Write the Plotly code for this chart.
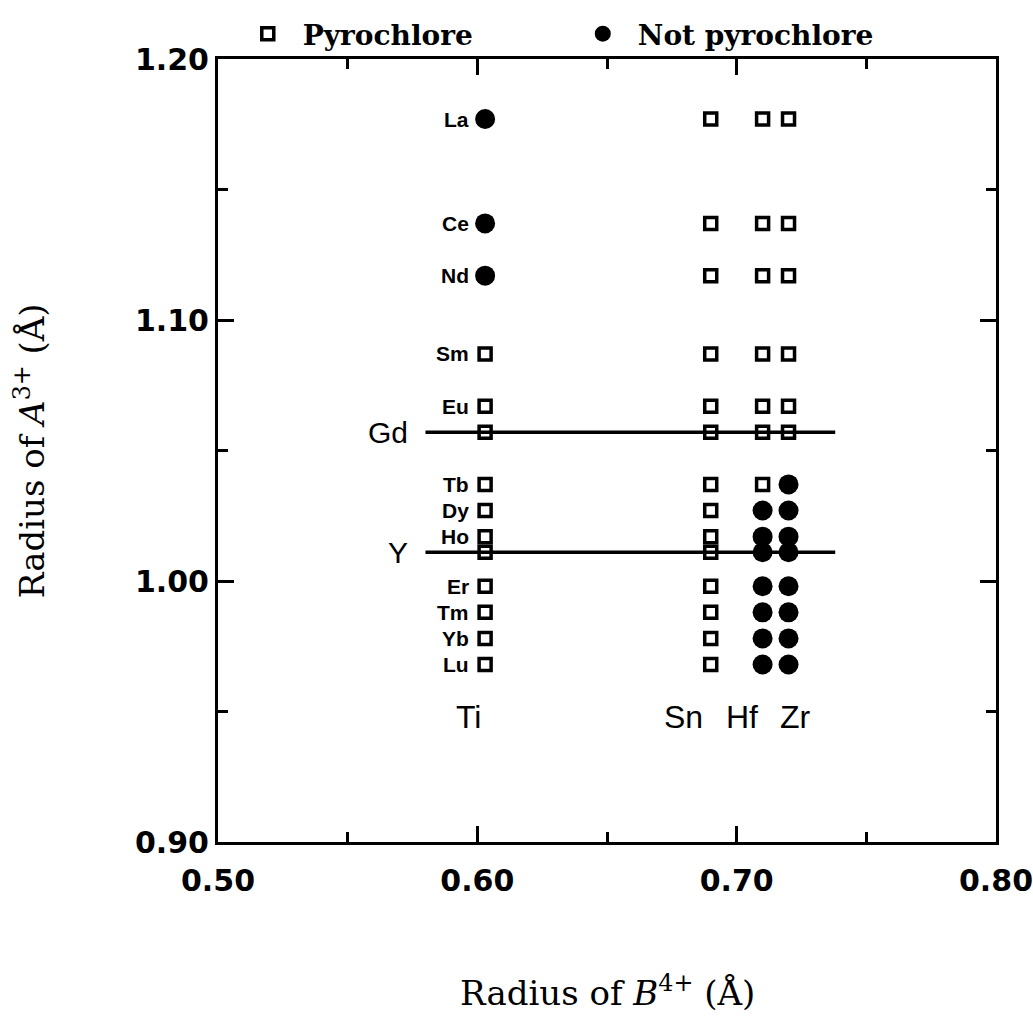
import plotly.graph_objects as go

# ---------------- data ----------------
elements = ["La", "Ce", "Nd", "Sm", "Eu", "Gd", "Tb", "Dy", "Ho", "Y", "Er", "Tm", "Yb", "Lu"]
radius_A = [1.177, 1.137, 1.117, 1.087, 1.067, 1.057, 1.037, 1.027, 1.017, 1.011, 0.998, 0.988, 0.978, 0.968]

b_cations = ["Ti", "Sn", "Hf", "Zr"]
radius_B = [0.603, 0.690, 0.710, 0.720]

# 1 = pyrochlore, 0 = not pyrochlore (rows follow `elements`)
pyro_Ti = [0, 0, 0, 1, 1, 1, 1, 1, 1, 1, 1, 1, 1, 1]
pyro_Sn = [1, 1, 1, 1, 1, 1, 1, 1, 1, 1, 1, 1, 1, 1]
pyro_Hf = [1, 1, 1, 1, 1, 1, 1, 0, 0, 0, 0, 0, 0, 0]
pyro_Zr = [1, 1, 1, 1, 1, 1, 0, 0, 0, 0, 0, 0, 0, 0]
pyro_flags = [pyro_Ti, pyro_Sn, pyro_Hf, pyro_Zr]

# elements drawn as horizontal boundary lines
line_elements = ["Gd", "Y"]
line_x_range = [0.580, 0.738]

# B-cation label positions (under the columns)
b_label_x = [0.5965, 0.6795, 0.702, 0.7225]
b_label_y = 0.948

x_ticks = [0.50, 0.60, 0.70, 0.80]
x_ticktext = ["0.50", "0.60", "0.70", "0.80"]
y_ticks = [0.90, 1.00, 1.10, 1.20]
y_ticktext = ["0.90", "1.00", "1.10", "1.20"]

# ---------------- build points ----------------
px_x, px_y, np_x, np_y = [], [], [], []
for bx, flags in zip(radius_B, pyro_flags):
    for ry, f in zip(radius_A, flags):
        if f:
            px_x.append(bx); px_y.append(ry)
        else:
            np_x.append(bx); np_y.append(ry)

fig = go.Figure()

# boundary lines (Gd, Y)
for el in line_elements:
    r = radius_A[elements.index(el)]
    fig.add_trace(go.Scatter(x=line_x_range, y=[r, r], mode="lines",
                             line=dict(color="black", width=3.5),
                             showlegend=False, hoverinfo="skip"))

fig.add_trace(go.Scatter(
    x=px_x, y=px_y, mode="markers", name="Pyrochlore",
    marker=dict(symbol="square-open", size=12, color="black",
                line=dict(color="black", width=3.5))))
fig.add_trace(go.Scatter(
    x=np_x, y=np_y, mode="markers", name="Not pyrochlore",
    marker=dict(symbol="circle", size=20, color="black")))

annotations = []
# small element labels left of Ti column
ti_x = radius_B[0]
for el, r in zip(elements, radius_A):
    if el in line_elements:
        continue
    annotations.append(dict(x=ti_x - 0.0055, y=r, xref="x", yref="y", text=el,
                            showarrow=False, xanchor="right", yanchor="middle",
                            font=dict(family="Liberation Sans", size=21, color="black", weight="bold")))
# big labels for boundary lines
for el in line_elements:
    r = radius_A[elements.index(el)]
    annotations.append(dict(x=line_x_range[0] - 0.006, y=r, xref="x", yref="y", text=el,
                            showarrow=False, xanchor="right", yanchor="middle",
                            font=dict(family="Liberation Sans", size=30, color="black")))
# B cation labels
for b, bx in zip(b_cations, b_label_x):
    annotations.append(dict(x=bx, y=b_label_y, xref="x", yref="y", text=b,
                            showarrow=False, xanchor="center", yanchor="middle",
                            font=dict(family="Liberation Sans", size=32, color="black")))
# axis titles
annotations.append(dict(x=0.5, y=-0.19, xref="paper", yref="paper",
                        text="Radius of <i>B</i><sup>4+</sup> (Å)", showarrow=False,
                        xanchor="center", yanchor="middle",
                        font=dict(family="DejaVu Serif", size=34, color="black")))
annotations.append(dict(x=-0.242, y=0.5, xref="paper", yref="paper",
                        text="Radius of <i>A</i><sup>3+</sup> (Å)", showarrow=False,
                        textangle=-90, xanchor="center", yanchor="middle",
                        font=dict(family="DejaVu Serif", size=34, color="black")))

axis_common = dict(showgrid=False, zeroline=False, showline=True, linecolor="black",
                   linewidth=3, mirror="ticks", ticks="inside", ticklen=16, tickwidth=3,
                   tickcolor="black", ticklabeloverflow="allow", automargin=False,
                   tickfont=dict(family="DejaVu Sans", size=30, color="black", weight="bold"),
                   minor=dict(ticks="inside", ticklen=10, tickwidth=3, tickcolor="black", dtick=0.05))

fig.update_layout(
    width=1033, height=1027,
    margin=dict(l=218, r=37, t=59, b=185, autoexpand=False),
    paper_bgcolor="white", plot_bgcolor="white",
    xaxis=dict(range=[0.50, 0.80], tickvals=x_ticks, ticktext=x_ticktext,
               ticklabelstandoff=10, **axis_common),
    yaxis=dict(range=[0.90, 1.20], tickvals=y_ticks, ticktext=y_ticktext, **axis_common),
    showlegend=True,
    legend=dict(orientation="h", x=0.019, y=1.0, xanchor="left", yanchor="bottom",
                entrywidth=260, itemwidth=60, bgcolor="rgba(0,0,0,0)",
                font=dict(family="DejaVu Serif", size=28, color="black", weight="bold")),
    annotations=annotations,
)

fig.write_html("out.html")
